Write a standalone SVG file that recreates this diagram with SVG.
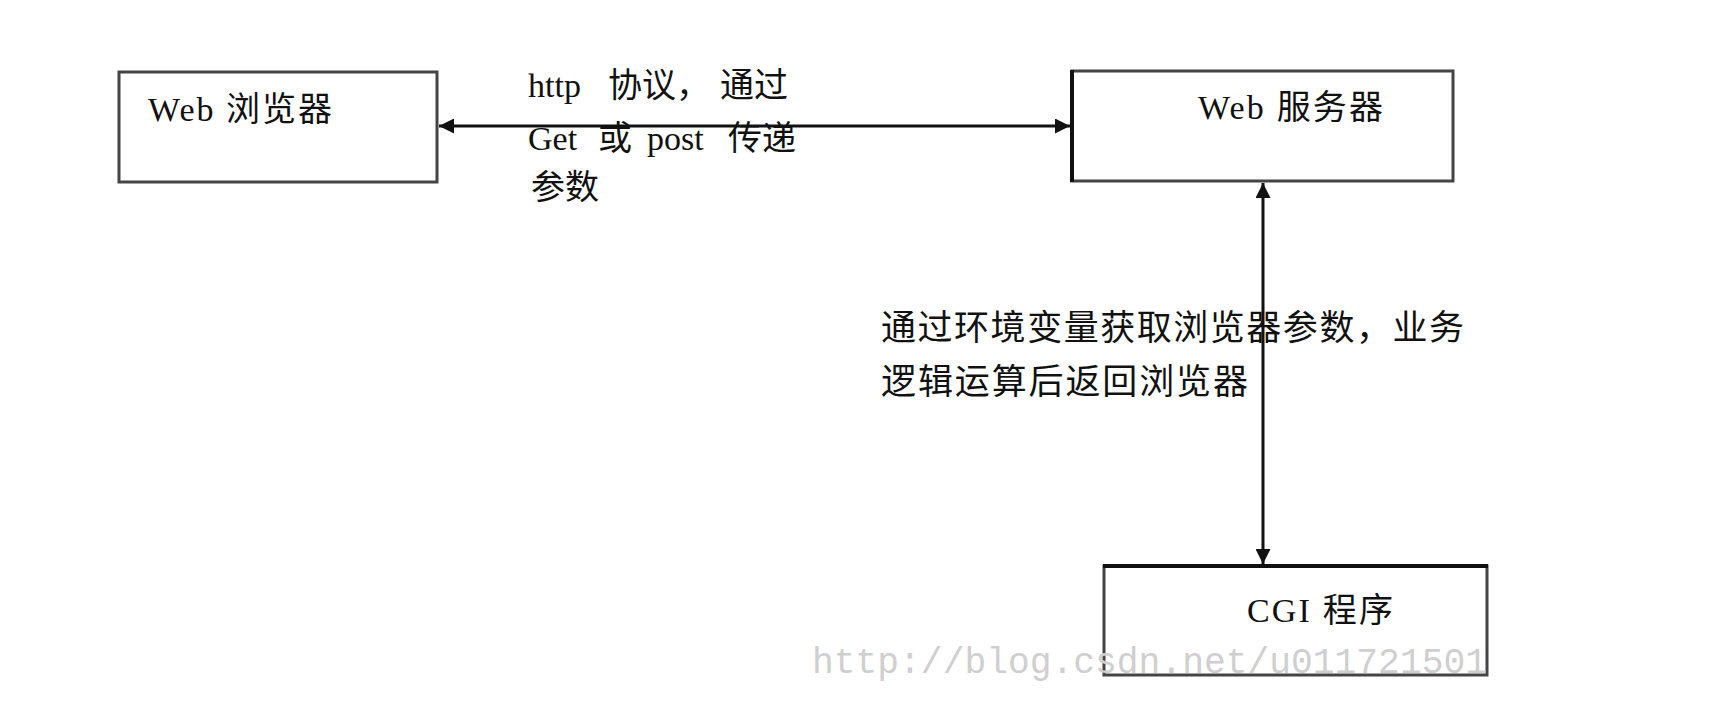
<svg xmlns="http://www.w3.org/2000/svg" width="1732" height="708" viewBox="0 0 1732 708">
<style>
.box{fill:#fff;stroke:#444;stroke-width:3}
.edge{stroke:#111;stroke-width:4}
.t{font-family:"Liberation Serif","Noto Sans CJK SC",serif;font-size:34px;fill:#111}
.c{font-family:"Noto Sans CJK SC",sans-serif;font-size:35px;fill:#111}
.line{stroke:#111;stroke-width:3;fill:none}
.wm{font-family:"Liberation Mono",monospace;font-size:36px;fill:#cfcfcf}
</style>
<defs>
<marker id="ah" viewBox="0 0 10 10" refX="10" refY="5" markerWidth="5" markerHeight="5" orient="auto-start-reverse" markerUnits="strokeWidth">
<path d="M0,0 L10,5 L0,10 z" fill="#111"/>
</marker>
</defs>
<rect width="1732" height="708" fill="#fff"/>
<g id="browser">
<rect class="box" x="119" y="72" width="318" height="110"/>
<text class="t" x="148" y="121" textLength="184" lengthAdjust="spacing">Web 浏览器</text>
</g>
<g id="server">
<rect class="box" x="1072" y="71" width="381" height="110"/>
<line class="edge" x1="1072" y1="70" x2="1072" y2="182"/>
<text class="t" x="1198" y="119" textLength="185" lengthAdjust="spacing">Web 服务器</text>
</g>
<g id="cgi">
<rect class="box" x="1104" y="566" width="383" height="109"/>
<line class="edge" x1="1103" y1="566" x2="1488" y2="566"/>
<text class="t" x="1247" y="622" textLength="146" lengthAdjust="spacing">CGI 程序</text>
</g>
<g id="connectors">
<line class="line" x1="439" y1="126" x2="1070" y2="126" marker-start="url(#ah)" marker-end="url(#ah)"/>
<line class="line" x1="1263" y1="183" x2="1263" y2="564" marker-start="url(#ah)" marker-end="url(#ah)"/>
</g>
<g id="labels">
<text class="t" y="97"><tspan x="528">http</tspan><tspan x="608">协议，</tspan><tspan x="720">通过</tspan></text>
<text class="t" y="150"><tspan x="528">Get</tspan><tspan x="598">或</tspan><tspan x="647">post</tspan><tspan x="728">传递</tspan></text>
<text class="t" y="199"><tspan x="531">参数</tspan></text>
<text class="c" x="881" y="340" textLength="583" lengthAdjust="spacing">通过环境变量获取浏览器参数，业务</text>
<text class="c" x="881" y="394" textLength="367" lengthAdjust="spacing">逻辑运算后返回浏览器</text>
</g>
<text class="wm" x="812" y="673" textLength="675" lengthAdjust="spacingAndGlyphs">http://blog.csdn.net/u011721501</text>
</svg>
